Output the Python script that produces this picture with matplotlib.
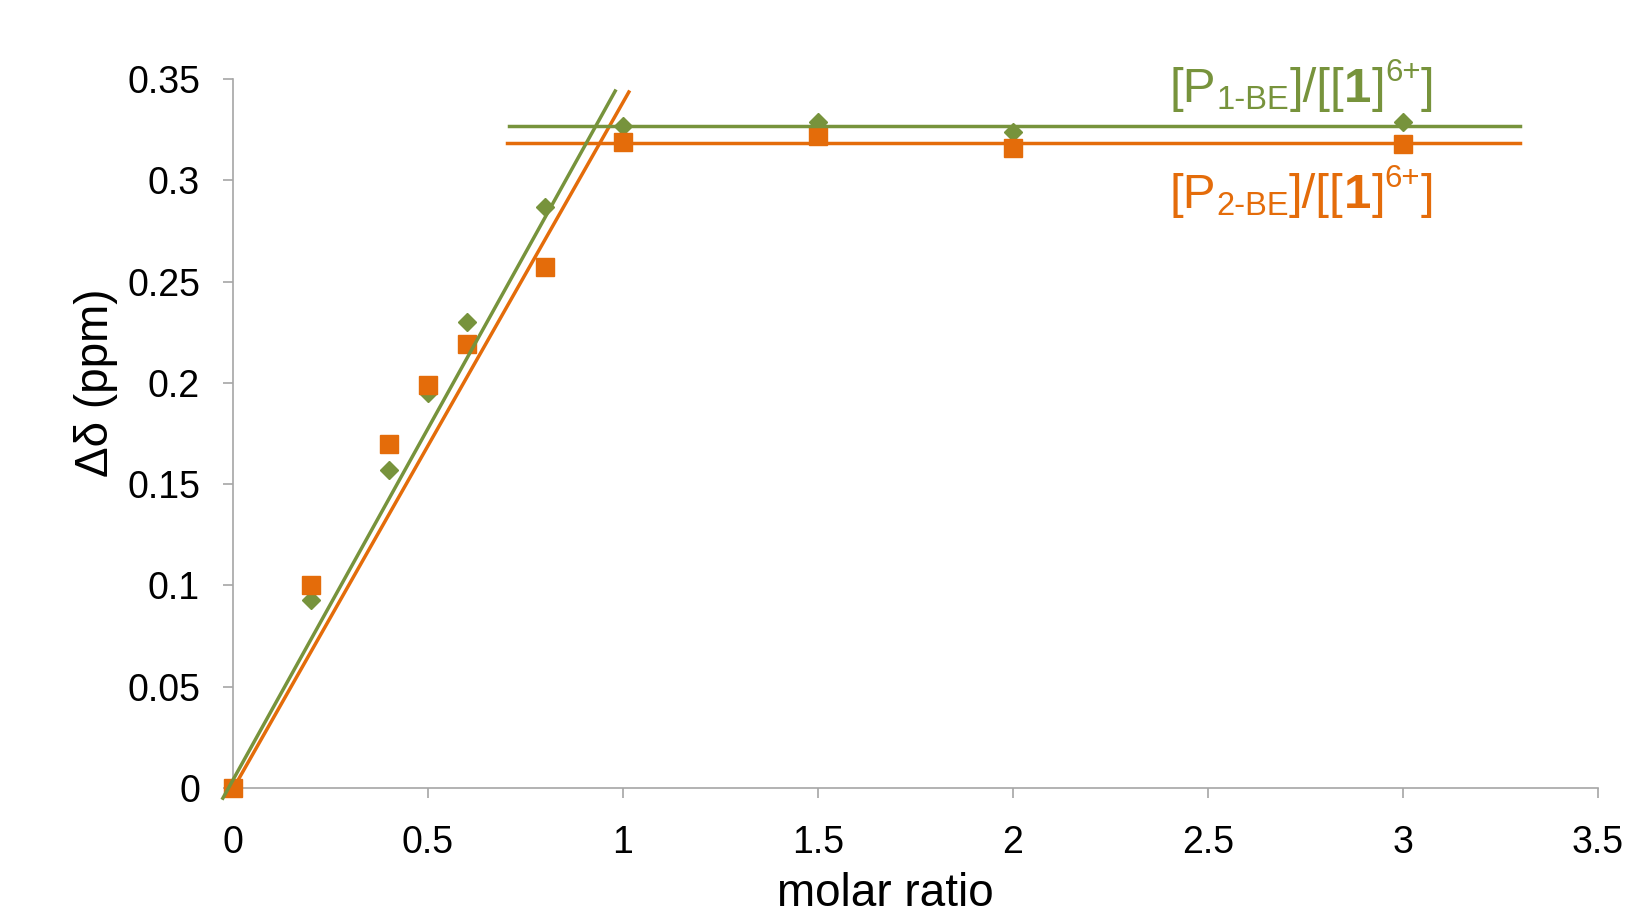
import numpy as np
import matplotlib
matplotlib.use("Agg")
import matplotlib.pyplot as plt

# ---------------- data ----------------
molar_ratio = [0.0, 0.2, 0.4, 0.5, 0.6, 0.8, 1.0, 1.5, 2.0, 3.0]
delta_p1 = [0.000, 0.093, 0.157, 0.195, 0.230, 0.287, 0.327, 0.329, 0.324, 0.329]
delta_p2 = [0.000, 0.100, 0.170, 0.199, 0.219, 0.257, 0.319, 0.322, 0.316, 0.318]

# trend lines (slope, intercept) and their x extents
rise_p1 = [0.347, 0.004]
rise_p1_x = [-0.026, 0.98]
rise_p2 = [0.339, -0.0005]
rise_p2_x = [0.0, 1.015]
plateau_p1 = 0.327
plateau_p1_x = [0.708, 3.30]
plateau_p2 = 0.3185
plateau_p2_x = [0.703, 3.30]

xticks = [0, 0.5, 1, 1.5, 2, 2.5, 3, 3.5]
xticklabels = ["0", "0.5", "1", "1.5", "2", "2.5", "3", "3.5"]
yticks = [0, 0.05, 0.1, 0.15, 0.2, 0.25, 0.3, 0.35]
yticklabels = ["0", "0.05", "0.1", "0.15", "0.2", "0.25", "0.3", "0.35"]

GREEN = "#77933C"
ORANGE = "#E46C0A"
AXIS = "#A6A6A6"
FONT = "Liberation Sans"

plt.rcParams["font.family"] = [FONT, "DejaVu Sans"]

W, H = 1631, 918
fig = plt.figure(figsize=(W / 100, H / 100), dpi=100)
ax = fig.add_axes([233 / W, 1 - 788 / H, (1598 - 233) / W, (788 - 79) / H])

ax.set_xlim(0, 3.5)
ax.set_ylim(0, 0.35)

# markers
ax.plot(molar_ratio, delta_p1, linestyle="none", marker="D", ms=8.8,
        color=GREEN, mec=GREEN, clip_on=False, zorder=3)
ax.plot(molar_ratio, delta_p2, linestyle="none", marker="s", ms=12.5,
        color=ORANGE, mec=ORANGE, clip_on=False, zorder=4)

lw = 2.5
# rising fits
xs = np.array(rise_p1_x)
ax.plot(xs, rise_p1[0] * xs + rise_p1[1], color=GREEN, lw=lw, clip_on=False, zorder=6)
xs = np.array(rise_p2_x)
ax.plot(xs, rise_p2[0] * xs + rise_p2[1], color=ORANGE, lw=lw, clip_on=False, zorder=5)
# plateaus
ax.plot(plateau_p1_x, [plateau_p1, plateau_p1], color=GREEN, lw=lw, clip_on=False, zorder=6)
ax.plot(plateau_p2_x, [plateau_p2, plateau_p2], color=ORANGE, lw=lw, clip_on=False, zorder=5)

# axes styling
for s in ["top", "right"]:
    ax.spines[s].set_visible(False)
for s in ["left", "bottom"]:
    ax.spines[s].set_color(AXIS)
    ax.spines[s].set_linewidth(1.2)
    ax.spines[s].set_zorder(1)

ax.set_xticks(xticks)
ax.set_xticklabels(xticklabels)
ax.set_yticks(yticks)
ax.set_yticklabels(yticklabels)
ax.tick_params(axis="both", direction="out", length=7.2, width=1.2, color=AXIS,
               labelsize=27, labelcolor="black")
ax.tick_params(axis="x", pad=19.5)
ax.tick_params(axis="y", pad=16.5)

# axis titles
fig.text(885 / W, 1.5 / H, "molar ratio", fontsize=33, ha="center", va="bottom",
         family=FONT)
fig.text(96 / W, 1 - 383 / H, "Δδ (ppm)", fontsize=33, ha="center", va="center",
         rotation=90, family=FONT)

# rich labels
fig.canvas.draw()
renderer = fig.canvas.get_renderer()


def rich(x_px, base_px, parts, color):
    x = x_px
    for s, size, weight, dy in parts:
        t = fig.text(x / W, 1 - (base_px + dy) / H, s, fontsize=size,
                     fontweight=weight, color=color, ha="left", va="baseline",
                     family=FONT)
        bb = t.get_window_extent(renderer)
        x += bb.width


def label_parts(num):
    return [("[P", 35.5, "normal", 0),
            (num + "-BE", 23.5, "normal", 7),
            ("]/[[", 35.5, "normal", 0),
            ("1", 35.5, "bold", 0),
            ("]", 35.5, "normal", 0),
            ("6+", 22.5, "normal", -21),
            ("]", 35.5, "normal", 0)]


rich(1170, 102, label_parts("1"), GREEN)
rich(1170, 208, label_parts("2"), ORANGE)

fig.savefig("out.png", dpi=100)
